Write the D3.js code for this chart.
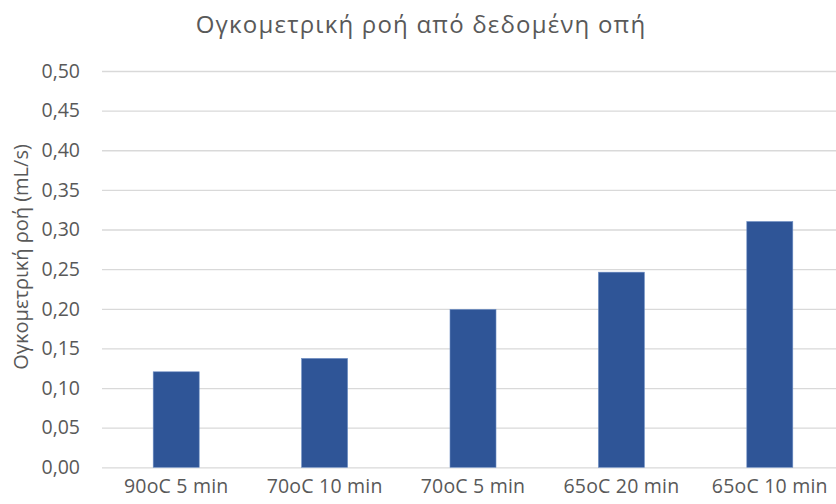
<!DOCTYPE html>
<html>
<head>
<meta charset="utf-8">
<script src="https://cdn.jsdelivr.net/npm/d3@7"></script>
<style>
  html, body { margin: 0; padding: 0; background: #fff; }
  svg { display: block; font-family: "Open Sans", "Noto Sans", sans-serif; }
</style>
</head>
<body>
<svg id="chart" width="836" height="504"></svg>
<script>
// Volumetric flow for each drying condition
const categories = ["90oC 5 min", "70oC 10 min", "70oC 5 min", "65oC 20 min", "65oC 10 min"];
const flowValues = [0.1205, 0.1374, 0.1992, 0.2462, 0.3101];
const yTicks = [0, 0.05, 0.10, 0.15, 0.20, 0.25, 0.30, 0.35, 0.40, 0.45, 0.50];

const titleText = "Ογκομετρική ροή από δεδομένη οπή";
const yAxisTitle = "Ογκομετρική ροή (mL/s)";

const svg = d3.select("#chart");
const margin = { left: 102, right: -8, top: 71, bottom: 36.7 };
const width = 836, height = 504;
const textColor = "#595959";

const x = d3.scaleBand()
  .domain(categories)
  .range([margin.left, width - margin.right])
  .paddingInner(0.69)
  .paddingOuter(0.345);

const y = d3.scaleLinear()
  .domain([0, 0.5])
  .range([height - margin.bottom, margin.top]);

const fmt = v => d3.format(".2f")(v).replace(".", ",");

// Horizontal gridlines with tick labels
const yAxis = d3.axisLeft(y)
  .tickValues(yTicks)
  .tickFormat(fmt)
  .tickSize(-(width - margin.left - margin.right))
  .tickPadding(22);

const gy = svg.append("g")
  .attr("transform", `translate(${margin.left},0)`)
  .call(yAxis);
gy.select(".domain").remove();
gy.selectAll(".tick line").attr("stroke", "#d9d9d9").attr("stroke-width", 1.3);
gy.selectAll(".tick text")
  .attr("fill", textColor)
  .attr("font-size", 19.5)
  .attr("font-family", "'Open Sans', sans-serif");

// Bars
svg.append("g")
  .selectAll("rect")
  .data(categories.map((c, i) => ({ c, v: flowValues[i] })))
  .join("rect")
  .attr("x", d => x(d.c))
  .attr("width", x.bandwidth())
  .attr("y", d => y(d.v))
  .attr("height", d => y(0) - y(d.v))
  .attr("fill", "#2f5597")
  .attr("stroke", "#6f8fc4")
  .attr("stroke-width", 0.6);

// Category labels
const xAxis = d3.axisBottom(x).tickSize(0).tickPadding(12);
const gx = svg.append("g")
  .attr("transform", `translate(0,${y(0)})`)
  .call(xAxis);
gx.select(".domain").remove();
gx.selectAll(".tick text")
  .attr("fill", textColor)
  .attr("font-size", 19.5)
  .attr("letter-spacing", 0.2)
  .attr("font-family", "'Open Sans', sans-serif");

// Title
svg.append("text")
  .attr("x", 421)
  .attr("y", 33)
  .attr("text-anchor", "middle")
  .attr("fill", textColor)
  .attr("font-size", 24)
  .attr("letter-spacing", 1.2)
  .attr("font-family", "'Open Sans', sans-serif")
  .text(titleText);

// Y axis title
svg.append("text")
  .attr("transform", `translate(28,257) rotate(-90)`)
  .attr("text-anchor", "middle")
  .attr("fill", textColor)
  .attr("font-size", 20)
  .attr("font-family", "'Open Sans', sans-serif")
  .text(yAxisTitle);
</script>
</body>
</html>
